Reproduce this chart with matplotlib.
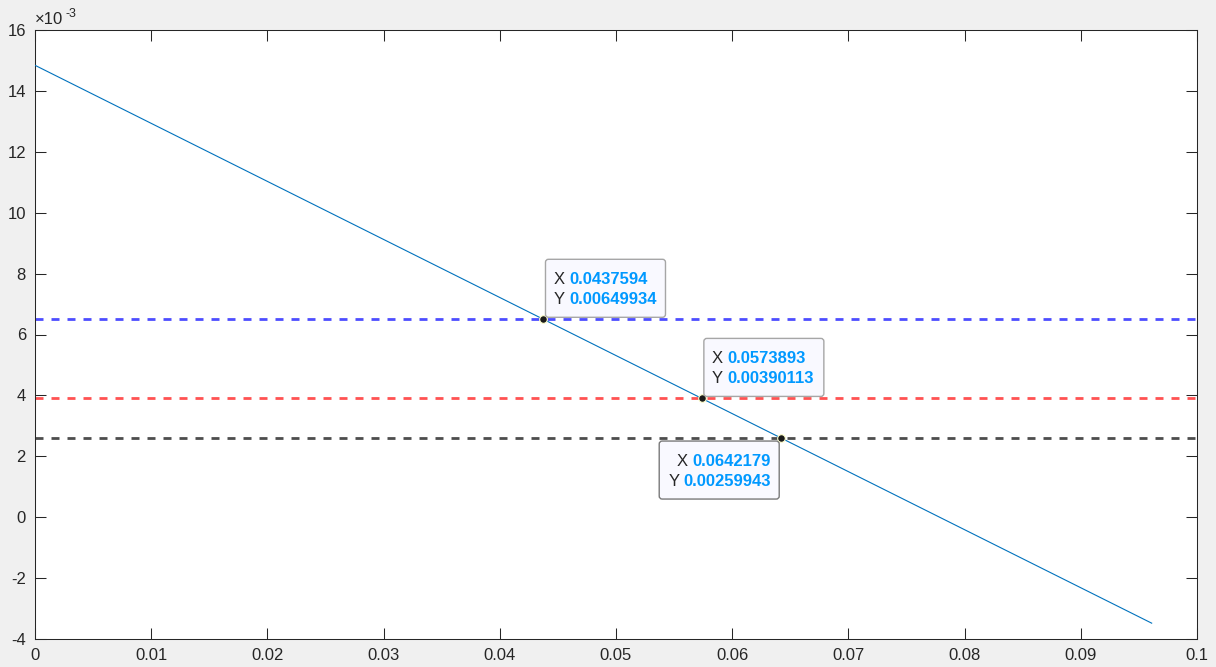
import matplotlib
matplotlib.use("Agg")
import matplotlib.pyplot as plt
from matplotlib.patches import FancyBboxPatch
from matplotlib.transforms import IdentityTransform

# ---- data ----
x_line = [0.0, 0.0961]
y_line = [0.014841, -0.00348]
levels = [0.00649934, 0.00390113, 0.00259943]
level_colors = ["#4d4dff", "#ff5252", "#4d4d4d"]
tip_x = [0.0437594, 0.0573893, 0.0642179]
tip_y = [0.00649934, 0.00390113, 0.00259943]
tip_xlabels = ["0.0437594", "0.0573893", "0.0642179"]
tip_ylabels = ["0.00649934", "0.00390113", "0.00259943"]
x_ticks = [0, 0.01, 0.02, 0.03, 0.04, 0.05, 0.06, 0.07, 0.08, 0.09, 0.1]
x_ticklabels = ["0", "0.01", "0.02", "0.03", "0.04", "0.05", "0.06", "0.07", "0.08", "0.09", "0.1"]
y_ticks = [-0.004, -0.002, 0, 0.002, 0.004, 0.006, 0.008, 0.010, 0.012, 0.014, 0.016]
y_ticklabels = ["-4", "-2", "0", "2", "4", "6", "8", "10", "12", "14", "16"]

FONT = "Liberation Sans"
W, H = 1216, 667
fig = plt.figure(figsize=(W / 100, H / 100), dpi=100, facecolor="#f0f0f0")
ax = fig.add_axes([35 / W, 1 - 639 / H, (1197 - 35) / W, (639 - 30) / H])
ax.set_facecolor("white")

ax.set_xlim(0, 0.1)
ax.set_ylim(-0.004, 0.016)

for lev, col in zip(levels, level_colors):
    ax.plot([0, 0.1], [lev, lev], color=col, lw=2.0, dashes=(2.88, 2.88), zorder=2)

ax.plot(x_line, y_line, color="#0072BD", lw=0.8, zorder=3)
ax.plot(tip_x, tip_y, "o", color="#1a1a1a", ms=5.5, mec="#ffffcc", mew=0.8, zorder=5)

ax.set_xticks(x_ticks)
ax.set_xticklabels(x_ticklabels)
ax.set_yticks(y_ticks)
ax.set_yticklabels(y_ticklabels)
ax.tick_params(direction="in", length=8, width=0.75, color="#262626",
               labelsize=12, labelcolor="#262626", top=True, right=True, pad=6.5)
for lab in ax.get_xticklabels() + ax.get_yticklabels():
    lab.set_fontfamily(FONT)
for sp in ax.spines.values():
    sp.set_color("#262626")
    sp.set_linewidth(0.75)

# exponent label
fig.text(35 / W, 1 - 20 / H, "\u00d710", fontsize=12, family=FONT, color="#262626",
         va="center", ha="left")
fig.text(65 / W, 1 - 14 / H, "-3", fontsize=9, family=FONT, color="#262626",
         va="center", ha="left")

# ---- data tips ----
bw, bh = 120, 58
placements = ["above", "above", "below"]
for i in range(3):
    px, py = ax.transData.transform((tip_x[i], tip_y[i]))
    if placements[i] == "above":
        bx, by = px + 2, py + 2
        edge = "#a6a6a6"
        xo_lab, xo_val = 8, 24
        yo_lab, yo_val = 8, 24
    else:
        bx, by = px - 122, py - 3 - bh
        edge = "#7a7a7a"
        xo_lab, xo_val = 17, 33
        yo_lab, yo_val = 9, 24
    top = by + bh
    box = FancyBboxPatch((bx, by), bw, bh, boxstyle="round,pad=0,rounding_size=3",
                         transform=IdentityTransform(), facecolor="#f9f9ff",
                         edgecolor=edge, lw=1.0, zorder=6, clip_on=False)
    fig.add_artist(box)
    l1 = top - 20
    l2 = top - 40
    fig.text(bx + xo_lab, l1, "X", transform=IdentityTransform(), fontsize=12,
             family=FONT, color="#262626", va="center", ha="left", zorder=7)
    fig.text(bx + xo_val, l1, tip_xlabels[i], transform=IdentityTransform(), fontsize=12,
             family=FONT, weight="bold", color="#0099ff", va="center", ha="left", zorder=7)
    fig.text(bx + yo_lab, l2, "Y", transform=IdentityTransform(), fontsize=12,
             family=FONT, color="#262626", va="center", ha="left", zorder=7)
    fig.text(bx + yo_val, l2, tip_ylabels[i], transform=IdentityTransform(), fontsize=12,
             family=FONT, weight="bold", color="#0099ff", va="center", ha="left", zorder=7)

fig.savefig("out.png", dpi=100, facecolor=fig.get_facecolor())
